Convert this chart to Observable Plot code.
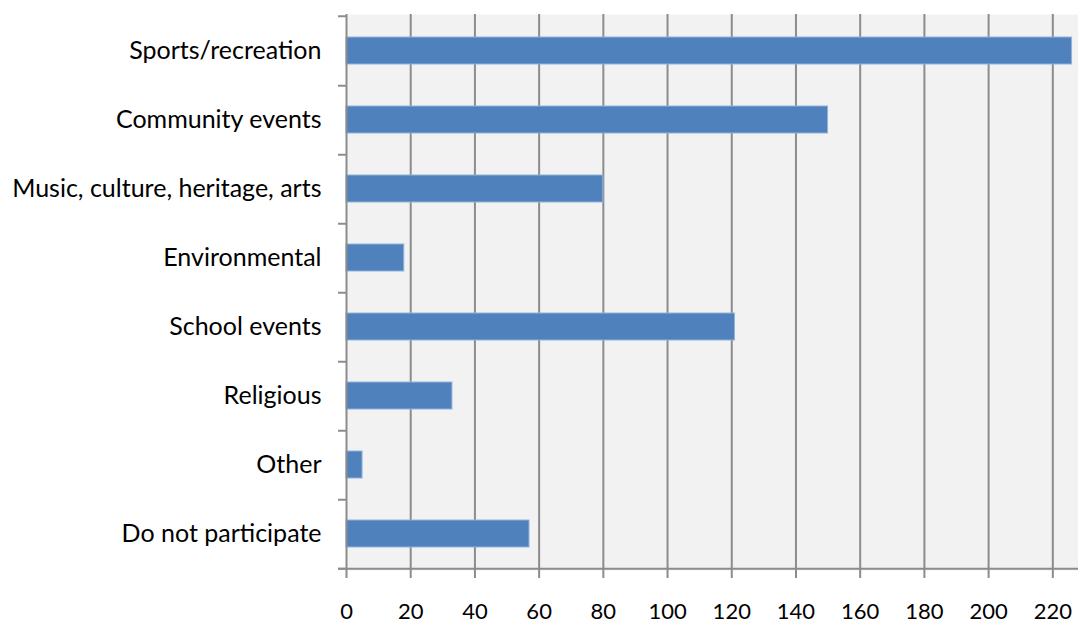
<!DOCTYPE html>
<html>
<head>
<meta charset="utf-8">
<script src="https://cdn.jsdelivr.net/npm/d3@7"></script>
<script src="https://cdn.jsdelivr.net/npm/@observablehq/plot@0.6"></script>
<style>
  html, body { margin: 0; padding: 0; background: #ffffff; }
  #chart svg { display: block; }
</style>
</head>
<body>
<div id="chart"></div>
<script>
// Participation by activity type (number of respondents)
const categories = [
  "Sports/recreation",
  "Community events",
  "Music, culture, heritage, arts",
  "Environmental",
  "School events",
  "Religious",
  "Other",
  "Do not participate"
];
const counts = [226, 150, 80, 18, 121, 33, 5, 57];
const xTicks = [0, 20, 40, 60, 80, 100, 120, 140, 160, 180, 200, 220];
const xMax = 228;

const data = categories.map((activity, i) => ({activity, count: counts[i]}));

const width = 1078, height = 626;
const marginLeft = 346, marginRight = 0, marginTop = 14, marginBottom = 56;
const axisColor = "#8c8c8c";
const font = "Lato, 'Liberation Sans', sans-serif";

// band step, used to put the category ticks on the band boundaries
const step = (height - marginTop - marginBottom) / categories.length;
// outward tick length (px) converted to x units
const tickLen = 8;
const tickUnits = tickLen * xMax / (width - marginLeft - marginRight);
const lastCategory = categories[categories.length - 1];

const chart = Plot.plot({
  width, height, marginLeft, marginRight, marginTop, marginBottom,
  style: {fontFamily: font, fontSize: "22px", color: "#000"},
  x: {domain: [0, xMax], label: null},
  y: {domain: categories, paddingInner: 0.61, paddingOuter: 0.305, align: 0.5, label: null},
  marks: [
    Plot.frame({fill: "#f2f2f2", stroke: null}),
    Plot.gridX(xTicks.filter(t => t > 0), {stroke: axisColor, strokeOpacity: 1, strokeWidth: 2}),
    Plot.barX(data, {
      x: "count", y: "activity",
      fill: "#4f81bd", stroke: "#93b3dc", strokeWidth: 1
    }),
    // vertical axis line
    Plot.ruleX([0], {stroke: axisColor, strokeWidth: 2}),
    // category boundary ticks
    Plot.ruleY(categories, {y: d => d, x1: -tickUnits, x2: 0, dy: step / 2, stroke: axisColor, strokeWidth: 2}),
    Plot.ruleY(categories.slice(0, 1), {y: d => d, x1: -tickUnits, x2: 0, dy: -step / 2, stroke: axisColor, strokeWidth: 2}),
    // horizontal axis line along the bottom edge of the last band
    Plot.ruleY([lastCategory], {y: d => d, x1: -tickUnits, x2: xMax, dy: step / 2, stroke: axisColor, strokeWidth: 2}),
    Plot.axisY({tickSize: 0, tickPadding: 25, fontSize: 25, fill: "#000"}),
    Plot.axisX({
      ticks: xTicks, tickSize: 8, tickPadding: 25, stroke: axisColor, strokeWidth: 2,
      fontSize: 22, fill: "#000", label: null
    })
  ]
});

document.getElementById("chart").appendChild(chart);
</script>
</body>
</html>
